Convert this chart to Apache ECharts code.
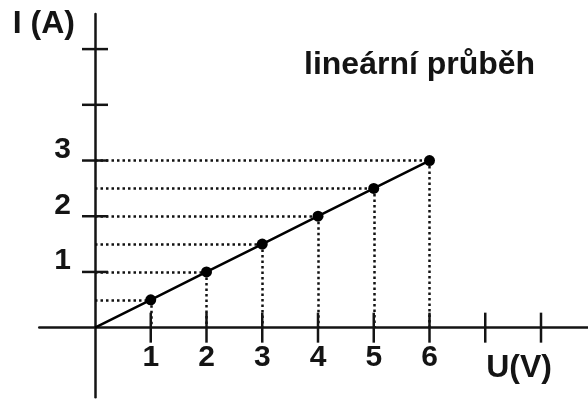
<!DOCTYPE html>
<html>
<head>
<meta charset="utf-8">
<style>
  html, body { margin: 0; padding: 0; background: #fff; }
  #chart { width: 588px; height: 399px; }
</style>
<script src="https://cdn.jsdelivr.net/npm/echarts@6/dist/echarts.min.js"></script>
</head>
<body>
<div id="chart"></div>
<script>
// naměřené hodnoty U (V) a I (A)
const voltage = [1, 2, 3, 4, 5, 6]
const current = [0.5, 1, 1.5, 2, 2.5, 3]

// značky na osách a popisky
const xTicks = [1, 2, 3, 4, 5, 6, 7, 8]
const yTicks = [1, 2, 3, 4, 5]
const xTickLabels = [1, 2, 3, 4, 5, 6]
const yTickLabels = [1, 2, 3]

const FONT = '"Liberation Sans", Arial, sans-serif'
const INK = '#141414'

const points = voltage.map((u, i) => [u, current[i]])
const lineData = [[0, 0]].concat(points)

// tečkované pomocné čáry k osám
const guides = []
points.forEach(([u, i]) => {
  guides.push([{ coord: [0, i] }, { coord: [u, i] }])
  guides.push([{ coord: [u, i] }, { coord: [u, 0] }])
})

const labelText = { fontFamily: FONT, fontSize: 30, fontWeight: 'bold', color: INK, lineHeight: 30 }
const nameText = { fontFamily: FONT, fontSize: 32, fontWeight: 'bold', color: INK, lineHeight: 32 }

const chart = echarts.init(document.getElementById('chart'))

chart.setOption({
  animation: false,
  title: {
    text: 'lineární průběh',
    left: 304,
    top: 49,
    padding: 0,
    textStyle: nameText,
  },
  grid: { left: 39.25, right: 0, top: 14, bottom: 1.7, outerBoundsMode: 'none', containLabel: false },
  xAxis: {
    type: 'value',
    min: -1,
    max: 8.843,
    interval: 1,
    splitLine: { show: false },
    axisTick: { show: false },
    axisLabel: { show: false },
    axisLine: { onZero: true, lineStyle: { color: INK, width: 2.5 } },
    name: 'U(V)',
    nameLocation: 'end',
    nameGap: -36,
    nameTextStyle: { ...nameText, align: 'right', verticalAlign: 'top', padding: [25, 0, 0, 0] },
  },
  yAxis: {
    type: 'value',
    min: -1.25,
    max: 5.63,
    interval: 0.25,
    splitLine: { show: false },
    axisTick: { show: false },
    axisLabel: { show: false },
    axisLine: { onZero: true, lineStyle: { color: INK, width: 2.5 } },
    name: 'I (A)',
    nameLocation: 'end',
    nameGap: 6,
    nameTextStyle: { ...nameText, align: 'right', verticalAlign: 'top', padding: [0, 20, 0, 0] },
  },
  series: [
    {
      // značky přes osu x
      type: 'scatter',
      data: xTicks.map((t) => [t, 0]),
      symbol: 'rect',
      symbolSize: [2.5, 30],
      itemStyle: { color: INK, opacity: 1 },
      silent: true,
      z: 3,
    },
    {
      // značky přes osu y
      type: 'scatter',
      data: yTicks.map((t) => [0, t]),
      symbol: 'rect',
      symbolSize: [26, 2.5],
      itemStyle: { color: INK, opacity: 1 },
      silent: true,
      z: 3,
    },
    {
      // popisky osy x
      type: 'scatter',
      data: xTickLabels.map((t) => [t, 0]),
      symbolSize: 0,
      itemStyle: { opacity: 1 },
      silent: true,
      label: {
        show: true,
        position: 'bottom',
        distance: 15,
        formatter: (p) => String(p.value[0]),
        ...labelText,
      },
    },
    {
      // popisky osy y
      type: 'scatter',
      data: yTickLabels.map((t) => [0, t]),
      symbolSize: 0,
      itemStyle: { opacity: 1 },
      silent: true,
      label: {
        show: true,
        position: 'left',
        distance: 24,
        offset: [0, -11],
        formatter: (p) => String(p.value[1]),
        ...labelText,
      },
    },
    {
      type: 'line',
      data: lineData,
      symbol: 'none',
      lineStyle: { color: '#000', width: 2.5 },
      silent: true,
      z: 4,
      markLine: {
        silent: true,
        symbol: ['none', 'none'],
        label: { show: false },
        lineStyle: { color: '#111', width: 2.5, type: [2.5, 3], opacity: 1 },
        data: guides,
        z: 1,
      },
    },
    {
      type: 'scatter',
      data: points,
      symbol: 'circle',
      symbolSize: 11,
      itemStyle: { color: '#000', opacity: 1 },
      silent: true,
      z: 5,
    },
  ],
})
</script>
</body>
</html>
